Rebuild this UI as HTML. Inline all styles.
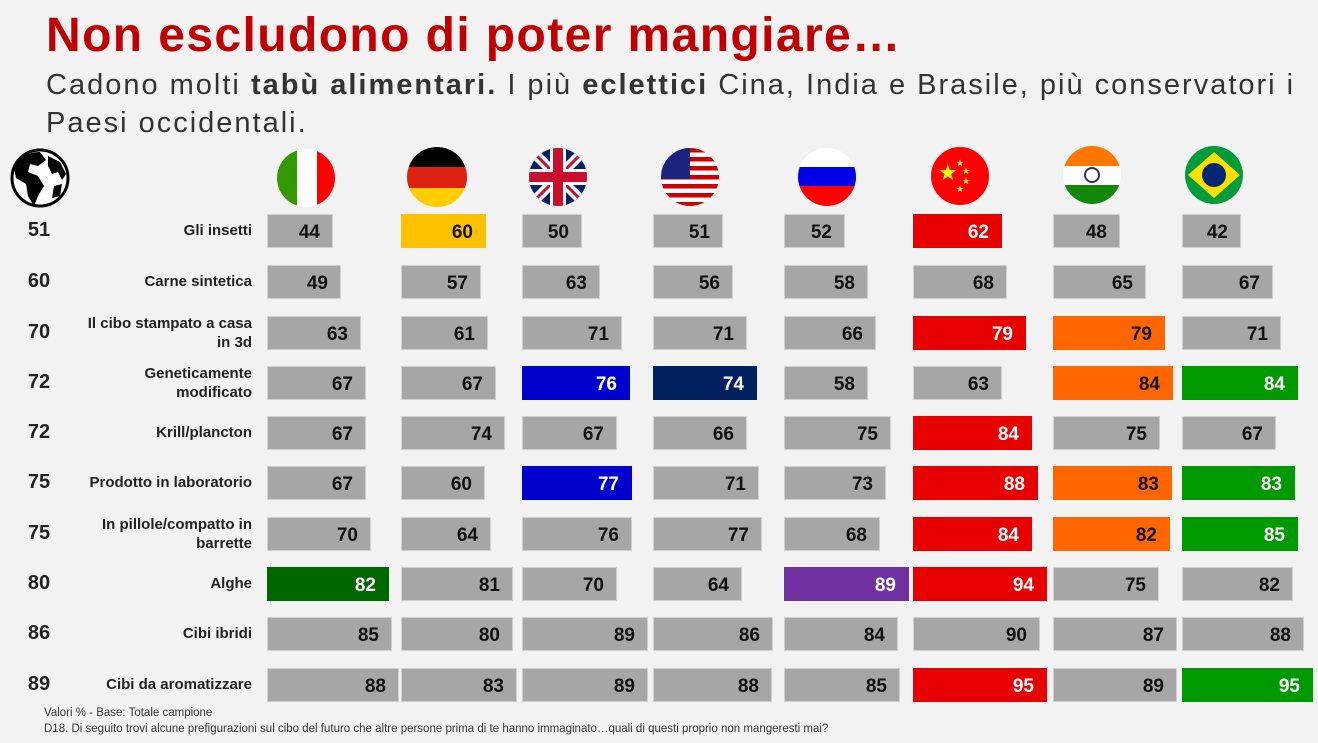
<!DOCTYPE html><html><head><meta charset="utf-8"><style>
body{margin:0;width:1318px;height:743px;background:#f2f2f2;font-family:"Liberation Sans",sans-serif;position:relative;overflow:hidden}
.a{position:absolute}
.t{left:46px;top:8px;font-size:48px;font-weight:bold;color:#c00000;letter-spacing:1.4px}
.s{left:46px;top:66px;font-size:29px;color:#333;line-height:38px;width:1270px;letter-spacing:2px;white-space:nowrap}
.b{position:absolute;height:34px;box-sizing:border-box;border:1px solid #d0d0d0;font-weight:bold;font-size:19px;text-align:right;padding-right:12px;line-height:36px;color:#111}
.l{position:absolute;right:1066px;width:210px;text-align:right;font-weight:bold;font-size:15px;color:#222;line-height:19px}
.n{position:absolute;left:14px;width:50px;text-align:center;font-weight:bold;font-size:20px;color:#222}
.f{position:absolute;left:44px;font-size:11.5px;color:#333}
</style></head><body>
<div class="a t">Non escludono di poter mangiare…</div>
<div class="a s">Cadono molti <b>tabù alimentari.</b> I più <b>eclettici</b> Cina, India e Brasile, più conservatori i<br>Paesi occidentali.</div>
<svg class="a" style="left:0;top:0" width="1318" height="215">
<defs><clipPath id="c0"><circle cx="40" cy="178" r="27"/></clipPath><clipPath id="c1"><circle cx="306" cy="178" r="29"/></clipPath><clipPath id="c2"><circle cx="437" cy="177" r="30"/></clipPath><clipPath id="c3"><circle cx="558" cy="177" r="29"/></clipPath><clipPath id="c4"><circle cx="690" cy="177" r="29"/></clipPath><clipPath id="c5"><circle cx="827" cy="177" r="29"/></clipPath><clipPath id="c6"><circle cx="960" cy="176" r="29"/></clipPath><clipPath id="c7"><circle cx="1092" cy="175" r="29"/></clipPath><clipPath id="c8"><circle cx="1214" cy="175" r="29"/></clipPath></defs>
<circle cx="40" cy="178" r="28" fill="#fff" stroke="#000" stroke-width="3"/>
<g clip-path="url(#c0)" fill="#000"><path d="M14 168 Q22 152 40 152 L46 160 L38 166 L30 164 L28 172 L38 176 L44 186 L38 196 L34 206 L28 196 L26 184 L16 178Z M48 156 L60 162 L66 174 L62 180 L58 172 L52 174 L48 166Z M54 186 L62 184 L60 196 L52 198Z"/></g>
<g clip-path="url(#c1)"><rect x="277" y="149" width="20" height="58" fill="#339900"/><rect x="297" y="149" width="20" height="58" fill="#fff"/><rect x="317" y="149" width="20" height="58" fill="#f00"/></g>
<g clip-path="url(#c2)"><rect x="407" y="147" width="60" height="20" fill="#000"/><rect x="407" y="167" width="60" height="21" fill="#dd2211"/><rect x="407" y="188" width="60" height="20" fill="#ffcc00"/></g>
<g clip-path="url(#c3)"><rect x="529" y="148" width="58" height="58" fill="#012169"/><path d="M529 148 L587 206 M587 148 L529 206" stroke="#fff" stroke-width="10"/><path d="M529 148 L587 206 M587 148 L529 206" stroke="#c8102e" stroke-width="3"/><rect x="529" y="169" width="58" height="16" fill="#fff"/><rect x="550" y="148" width="16" height="58" fill="#fff"/><rect x="529" y="172" width="58" height="10" fill="#c8102e"/><rect x="553" y="148" width="10" height="58" fill="#c8102e"/></g>
<g clip-path="url(#c4)"><rect x="661" y="148" width="58" height="58" fill="#fff"/><g fill="#c00"><rect x="661" y="148" width="58" height="4.5"/><rect x="661" y="157" width="58" height="4.5"/><rect x="661" y="166" width="58" height="4.5"/><rect x="661" y="175" width="58" height="4.5"/><rect x="661" y="184" width="58" height="4.5"/><rect x="661" y="193" width="58" height="4.5"/><rect x="661" y="202" width="58" height="4.5"/></g><rect x="661" y="148" width="29" height="31" fill="#1a237e"/></g>
<g clip-path="url(#c5)"><rect x="798" y="148" width="58" height="19" fill="#fff"/><rect x="798" y="167" width="58" height="19" fill="#0000e6"/><rect x="798" y="186" width="58" height="20" fill="#f00"/></g>
<g clip-path="url(#c6)"><rect x="931" y="147" width="58" height="58" fill="#f00"/><text x="938" y="180" font-size="22" fill="#ff0">★</text><text x="956" y="166" font-size="9" fill="#ff0">★</text><text x="962" y="174" font-size="9" fill="#ff0">★</text><text x="962" y="184" font-size="9" fill="#ff0">★</text><text x="956" y="192" font-size="9" fill="#ff0">★</text></g>
<g clip-path="url(#c7)"><rect x="1063" y="146" width="58" height="20" fill="#ff7700"/><rect x="1063" y="166" width="58" height="19" fill="#fff"/><rect x="1063" y="185" width="58" height="20" fill="#138808"/><circle cx="1092" cy="175" r="7" fill="none" stroke="#335" stroke-width="2"/></g>
<g clip-path="url(#c8)"><rect x="1185" y="146" width="58" height="58" fill="#009b3a"/><path d="M1214 152 L1240 175 L1214 198 L1188 175Z" fill="#fedf00"/><circle cx="1214" cy="175" r="12" fill="#002776"/></g>
</svg>
<div id="g"></div>
<div class="f" style="top:707px">Valori % - Base: Totale campione</div>
<div class="f" style="top:723px">D18. Di seguito trovi alcune prefigurazioni sul cibo del futuro che altre persone prima di te hanno immaginato…quali di questi proprio non mangeresti mai?</div>
<script>
var labels=["Gli insetti","Carne sintetica","Il cibo stampato a casa<br>in 3d","Geneticamente<br>modificato","Krill/plancton","Prodotto in laboratorio","In pillole/compatto in<br>barrette","Alghe","Cibi  ibridi","Cibi da aromatizzare"];
var tot=[51,60,70,72,72,75,75,80,86,89];
var ys=[231,282,333,383,433,483,534,584,634,685];
var xs=[267,401,522,653,784,913,1053,1182];
var v=[[44,60,50,51,52,62,48,42],[49,57,63,56,58,68,65,67],[63,61,71,71,66,79,79,71],[67,67,76,74,58,63,84,84],[67,74,67,66,75,84,75,67],[67,60,77,71,73,88,83,83],[70,64,76,77,68,84,82,85],[82,81,70,64,89,94,75,82],[85,80,89,86,84,90,87,88],[88,83,89,88,85,95,89,95]];
var r=[[333,486,582,723,845,1002,1120,1241],[341,481,600,733,868,1007,1146,1273],[361,488,622,747,876,1026,1165,1281],[366,496,630,757,868,1002,1173,1298],[366,505,617,747,891,1032,1160,1276],[366,485,632,759,886,1038,1172,1295],[371,491,632,762,880,1032,1170,1298],[389,513,617,742,909,1047,1159,1293],[392,513,648,773,898,1040,1177,1304],[399,517,648,772,900,1047,1177,1313]];
var c={"0,1":"#ffc000","0,5":"#e60000","2,5":"#e60000","2,6":"#ff6600","3,2":"#0000cc","3,3":"#002060","3,6":"#ff6600","3,7":"#009900","4,5":"#e60000","5,2":"#0000cc","5,5":"#e60000","5,6":"#ff6600","5,7":"#009900","6,5":"#e60000","6,6":"#ff6600","6,7":"#009900","7,0":"#006600","7,4":"#7030a0","7,5":"#e60000","9,5":"#e60000","9,7":"#009900"};
var h="";
for(var i=0;i<10;i++){var y=ys[i];
h+='<div class="n" style="top:'+(y-12)+'px">'+tot[i]+'</div>';
var two=labels[i].indexOf("<br>")>=0;
h+='<div class="l" style="top:'+(y-(two?19:10))+'px">'+labels[i]+'</div>';
for(var j=0;j<8;j++){var k=i+","+j,col=c[k]||"#a6a6a6";var fc=(col=="#a6a6a6"||col=="#ffc000"||col=="#ff6600")?"#111":"#fff";
h+='<div class="b" style="left:'+xs[j]+'px;top:'+(y-17)+'px;width:'+(r[i][j]-xs[j])+'px;background:'+col+';color:'+fc+';'+(col!="#a6a6a6"?'border-color:'+col:'')+'">'+v[i][j]+'</div>';}}
document.getElementById("g").innerHTML=h;
</script>
</body></html>
